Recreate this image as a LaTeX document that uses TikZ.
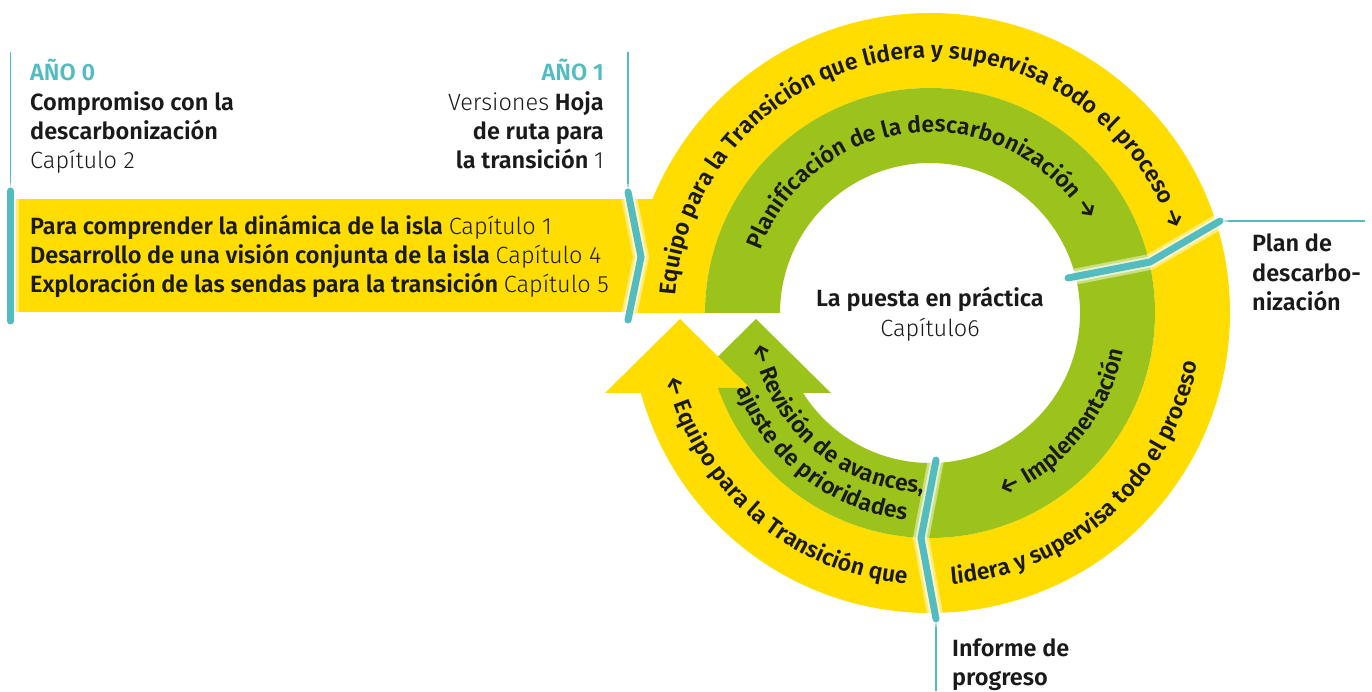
\documentclass[tikz,border=0pt]{standalone}
\usepackage{fontspec}
\setmainfont{Fira Sans}
\IfFontExistsTF{Fira Sans Light}{\newfontfamily\fLight{Fira Sans Light}}{\newfontfamily\fLight{Fira Sans}}
\IfFontExistsTF{Fira Sans SemiBold}{\newfontfamily\fBold{Fira Sans SemiBold}}{\newcommand\fBold{\bfseries}}
\usetikzlibrary{calc,decorations.text}
\definecolor{yel}{HTML}{FFDD00}
\definecolor{grn}{HTML}{9CC31B}
\definecolor{tea}{HTML}{52BCC0}
\definecolor{ink}{HTML}{1A1A1A}
\newcommand\fs{\fontsize{23.5}{28}\selectfont}
\newcommand\cf{\fontsize{23}{28}\selectfont\fBold}
\tikzset{
  lbl/.style={font=\fs\fBold, text=ink, inner sep=0pt},
  glowline/.style={white, line width=16pt, opacity=0.45, line cap=round, line join=round},
  glowline2/.style={white, line width=11pt, opacity=0.6, line cap=round, line join=round},
  tealthick/.style={tea, line width=7pt, line cap=round, line join=miter},
  tealthin/.style={tea, line width=1.5pt},
  curvtext/.style={decorate, decoration={text along path, text align=center, text color=ink, text={#1}}}
}
\begin{document}
\begin{tikzpicture}[x=1pt,y=1pt]
\useasboundingbox (0,0) rectangle (1372,691);
\coordinate (C) at (930,378);
% left bar
\fill[yel] (15,379) rectangle (704,492);
% top / right rings
\fill[yel] ($(C)+(180:300)$) arc[start angle=180,end angle=-92,radius=300]
  -- ($(C)+(-92:225)$) arc[start angle=-92,end angle=180,radius=225] -- cycle;
\fill[grn] ($(C)+(180:225)$) arc[start angle=180,end angle=-92,radius=225]
  -- ($(C)+(-92:150)$) arc[start angle=-92,end angle=180,radius=150] -- cycle;
% lower-left arrows
\fill[grn] (681,298) -- (756,372) -- (831,298) -- cycle;
\fill[yel] ($(C)+(195.47:300)$) arc[start angle=195.47,end angle=272,radius=300]
  -- ($(C)+(272:225)$) arc[start angle=272,end angle=200.8,radius=225] -- cycle;
\fill[yel] (605,298) -- (680,372) -- (755,298) -- cycle;
\fill[grn] ($(C)+(199.47:225)$) arc[start angle=199.47,end angle=272,radius=225]
  -- ($(C)+(272:150)$) arc[start angle=272,end angle=210,radius=150] -- cycle;
% teal separators
\coordinate (l1) at (10.5,500); \coordinate (l2) at (10.5,370);
\draw[tealthin] (10.5,639) -- (l1);
\draw[glowline] (l1) -- (l2); \draw[glowline2] (l1) -- (l2); \draw[tealthick] (l1) -- (l2);
\coordinate (c1) at (628,499); \coordinate (c2) at (641,434); \coordinate (c3) at (628,371);
\draw[tealthin] (628,639) -- (c1);
\draw[glowline] (c1) -- (c2) -- (c3); \draw[glowline2] (c1) -- (c2) -- (c3); \draw[tealthick] (c1) -- (c2) -- (c3);
\coordinate (r1) at (1068,413); \coordinate (r2) at (1150,429); \coordinate (r3) at (1220,470);
\draw[tealthin] (r3) -- (1365,470);
\draw[glowline] (r1) -- (r2) -- (r3); \draw[glowline2] (r1) -- (r2) -- (r3); \draw[tealthick] (r1) -- (r2) -- (r3);
\coordinate (b1) at (936,231); \coordinate (b2) at (921,153); \coordinate (b3) at (936,72);
\draw[tealthin] (b3) -- (936,0);
\draw[glowline] (b1) -- (b2) -- (b3); \draw[glowline2] (b1) -- (b2) -- (b3); \draw[tealthick] (b1) -- (b2) -- (b3);
% curved texts
\path[curvtext={|\cf|Equipo para la Transición que lidera y supervisa todo el proceso →}]
  ($(C)+(182.5:255)$) arc[start angle=182.5,end angle=12.5,radius=255];
\path[curvtext={|\cf|Planificación de la descarbonización →}]
  ($(C)+(170:181)$) arc[start angle=170,end angle=20,radius=181];
\path[curvtext={|\cf|lidera y supervisa todo el proceso}]
  ($(C)+(267:272)$) arc[start angle=267,end angle=357,radius=272];
\path[curvtext={|\cf|← Implementación}]
  ($(C)+(280:197)$) arc[start angle=280,end angle=361,radius=197];
\path[curvtext={|\cf|← Equipo para la Transición que}]
  ($(C)+(189.5:272)$) arc[start angle=189.5,end angle=269.5,radius=272];
\path[curvtext={|\cf|← Revisión de avances,}]
  ($(C)+(184:180)$) arc[start angle=184,end angle=274,radius=180];
\path[curvtext={|\cf|ajuste de prioridades}]
  ($(C)+(192.5:208)$) arc[start angle=192.5,end angle=272.5,radius=208];
% straight texts
\node[lbl, anchor=base west, text=tea] (a0) at (30,610) {AÑO 0};
\node[lbl, anchor=base west] (a0l1) at (30,580) {Compromiso con la};
\node[lbl, anchor=base west] (a0l2) at (30,551) {descarbonización};
\node[lbl, anchor=base west] (a0l3) at (30,522) {\fLight Capítulo 2};
\node[lbl, anchor=base east, text=tea] (a1) at (604,610) {AÑO 1};
\node[lbl, anchor=base east] (a1l1) at (604,580) {{\fLight Versiones} Hoja};
\node[lbl, anchor=base east] (a1l2) at (604,551) {de ruta para};
\node[lbl, anchor=base east] (a1l3) at (604,522) {la transición {\fLight 1}};
\node[lbl, anchor=base west] (bar1) at (30,456) {Para comprender la dinámica de la isla {\fLight Capítulo 1}};
\node[lbl, anchor=base west] (bar2) at (30,427) {Desarrollo de una visión conjunta de la isla {\fLight Capítulo 4}};
\node[lbl, anchor=base west] (bar3) at (30,398) {Exploración de las sendas para la transición {\fLight Capítulo 5}};
\node[lbl, anchor=base] (ct1) at (930,384) {La puesta en práctica};
\node[lbl, anchor=base] (ct2) at (930,354) {\fLight Capítulo6};
\node[lbl, anchor=base west] (p1) at (1252,439) {Plan de};
\node[lbl, anchor=base west] (p2) at (1252,409) {descarbo-};
\node[lbl, anchor=base west] (p3) at (1252,380) {nización};
\node[lbl, anchor=base west] (i1) at (952,35) {Informe de};
\node[lbl, anchor=base west] (i2) at (952,6) {progreso};
\end{tikzpicture}
\end{document}
